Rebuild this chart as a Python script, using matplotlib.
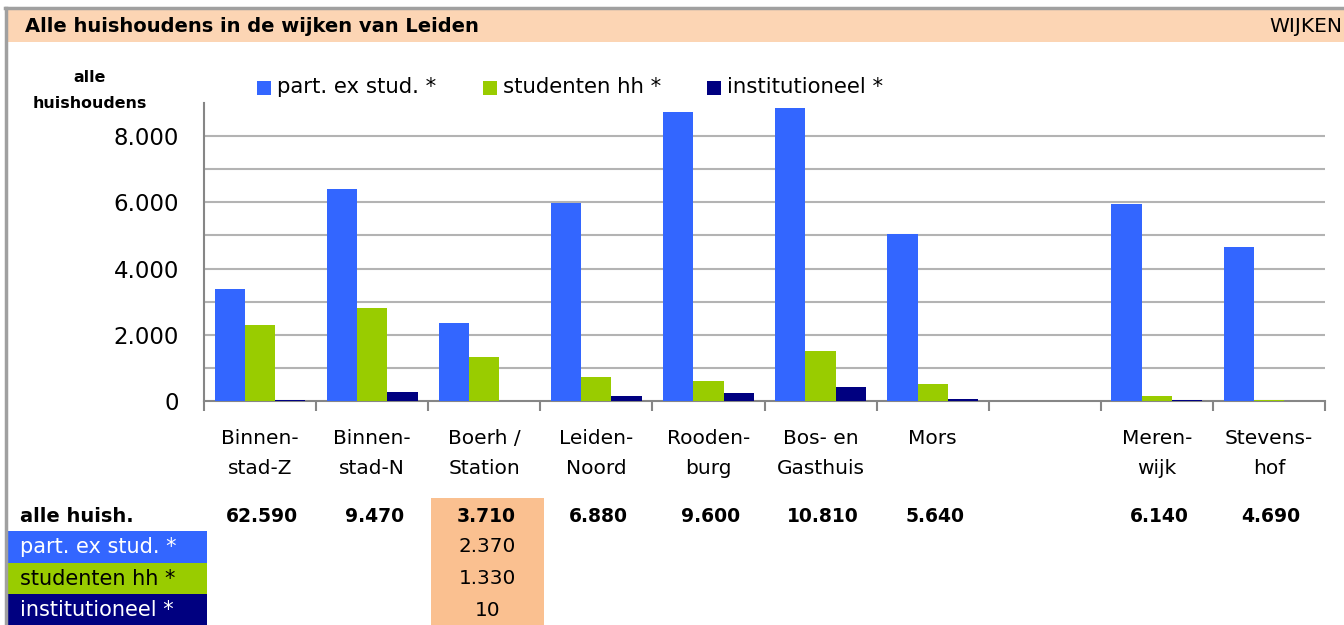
import matplotlib
matplotlib.use('Agg')
import matplotlib.pyplot as plt
from matplotlib.patches import Rectangle
from matplotlib.lines import Line2D
import matplotlib.transforms as mtransforms

# ---------------- data ----------------
categories = ["Binnen-\nstad-Z", "Binnen-\nstad-N", "Boerh /\nStation", "Leiden-\nNoord",
              "Rooden-\nburg", "Bos- en\nGasthuis", "Mors", "", "Meren-\nwijk", "Stevens-\nhof"]
series_names = ["part. ex stud. *", "studenten hh *", "institutioneel *"]
part_ex_stud = [3380, 6400, 2370, 5975, 8720, 8840, 5040, 0, 5945, 4650]
studenten_hh = [2290, 2810, 1330, 725, 600, 1510, 510, 0, 150, 40]
institutioneel = [20, 270, 10, 150, 240, 420, 60, 0, 20, 5]
totals = [62590, 9470, 3710, 6880, 9600, 10810, 5640, None, 6140, 4690]
highlight_idx = 2
yticks = [0, 2000, 4000, 6000, 8000]

colors = ["#3366FF", "#99CC00", "#000080"]
plt.rcParams['font.family'] = ['DejaVu Sans']

W, H = 1344, 625
fig = plt.figure(figsize=(W / 100, H / 100), dpi=100)

def fx(px):
    return px / W

def fy(py):
    return 1 - py / H

def nl(v):
    return f"{v:,}".replace(",", ".")

# outer frame and title bar
fig.add_artist(Line2D([fx(5), 1], [fy(8), fy(8)], color="#A0A0A0", lw=2.5))
fig.add_artist(Line2D([fx(6), fx(6)], [fy(8), 0], color="#A0A0A0", lw=2.5))
fig.add_artist(Rectangle((fx(8), fy(42)), 1 - fx(8), fy(10) - fy(42),
                         facecolor="#FCD5B4", edgecolor="none"))
fig.text(fx(25), fy(27), "Alle huishoudens in de wijken van Leiden", fontsize=14,
         fontweight="bold", va="center", ha="left")
fig.text(fx(1342), fy(27), "WIJKEN", fontsize=14.5, va="center", ha="right")

# axes
ax = fig.add_axes([fx(204), fy(401), fx(1325) - fx(204), fy(103) - fy(401)])
n = len(categories)
bw = 0.27
series = [part_ex_stud, studenten_hh, institutioneel]
for k, (vals, c) in enumerate(zip(series, colors)):
    xs = [i + (k - 1) * bw for i in range(n)]
    ax.bar(xs, vals, width=bw, color=c, edgecolor="none", zorder=3)

ax.set_xlim(-0.5, n - 0.5)
ax.set_ylim(0, 9000)
for g in range(1000, 9000, 1000):
    ax.axhline(g, color="#B3B3B3", lw=1.5, zorder=1)
ax.set_yticks(yticks)
ax.set_yticklabels([nl(v) for v in yticks], fontsize=16.5)
ax.tick_params(axis='y', length=0, pad=18)
ax.set_xticks([i - 0.5 for i in range(n + 1)])
ax.set_xticklabels([])
ax.tick_params(axis='x', length=7, color="#868686", width=1.5)
for s in ["top", "right"]:
    ax.spines[s].set_visible(False)
for s in ["left", "bottom"]:
    ax.spines[s].set_color("#868686")
    ax.spines[s].set_linewidth(1.5)

trans = mtransforms.blended_transform_factory(ax.transData, fig.transFigure)
for i, lab in enumerate(categories):
    ax.text(i, fy(429), lab, transform=trans, ha="center", va="top", fontsize=14.5,
            linespacing=1.72)

# y label
fig.text(fx(90), fy(90.5), "alle\nhuishoudens", fontsize=11.4, fontweight="bold",
         ha="center", va="center", linespacing=1.85)

# legend
leg_x = [257, 483, 707]
for name, c, x0 in zip(series_names, colors, leg_x):
    fig.add_artist(Rectangle((fx(x0), fy(95)), fx(14), fy(81) - fy(95),
                             facecolor=c, edgecolor="none"))
    fig.text(fx(x0 + 20), fy(87), name, fontsize=15.3, va="center", ha="left")

# table
fig.add_artist(Rectangle((fx(431), fy(625)), fx(113), fy(498) - fy(625),
                         facecolor="#FAC090", edgecolor="none", zorder=-1))
fig.text(fx(20), fy(516), "alle huish.", fontsize=14, fontweight="bold",
         va="center", ha="left")
for i, t in enumerate(totals):
    if t is not None:
        ax.text(i + 0.02, fy(516), nl(t), transform=trans, ha="center", va="center",
                fontsize=13.5, fontweight="bold")
row_y = [547, 579, 610]
text_cols = ["white", "black", "white"]
for name, c, tc, ry, vals in zip(series_names, colors, text_cols, row_y, series):
    fig.add_artist(Rectangle((fx(8), fy(ry + 16)), fx(199), fy(ry - 16) - fy(ry + 16),
                             facecolor=c, edgecolor="none"))
    fig.text(fx(20), fy(ry), name, fontsize=15, color=tc, va="center", ha="left")
    ax.text(highlight_idx + 0.03, fy(ry), nl(vals[highlight_idx]), transform=trans,
            ha="center", va="center", fontsize=14.4)

fig.savefig("out.png", dpi=100)
